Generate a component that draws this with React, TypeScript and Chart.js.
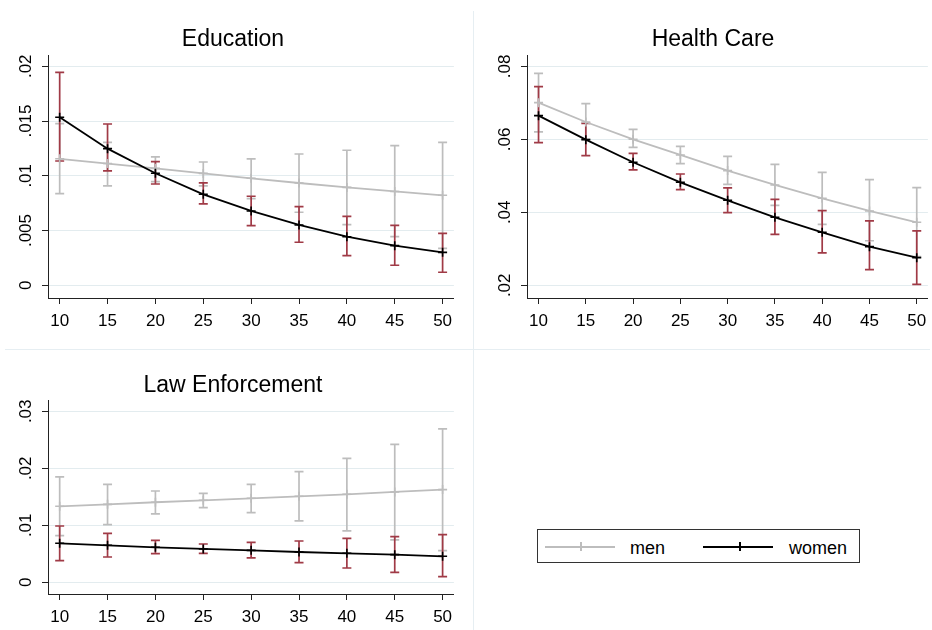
import React, { useEffect, useRef } from "react";
import { Chart, registerables } from "chart.js";
Chart.register(...registerables);

// ---------- data ----------
const ages = [10, 15, 20, 25, 30, 35, 40, 45, 50];

const eduMen = [0.01155, 0.01112, 0.01068, 0.01022, 0.00977, 0.00934, 0.00894, 0.00857, 0.00822];
const eduMenLo = [0.00837, 0.00907, 0.00947, 0.00907, 0.00791, 0.00667, 0.00554, 0.00444, 0.00338];
const eduMenHi = [0.01476, 0.01306, 0.01172, 0.01126, 0.01154, 0.01199, 0.01233, 0.01275, 0.01306];
const eduWomen = [0.01534, 0.01248, 0.01023, 0.00831, 0.00679, 0.00551, 0.00444, 0.00362, 0.00301];
const eduWomenLo = [0.01135, 0.01044, 0.00925, 0.00743, 0.00545, 0.00393, 0.00271, 0.00183, 0.00119];
const eduWomenHi = [0.01945, 0.01473, 0.01129, 0.00935, 0.00813, 0.00718, 0.0063, 0.00548, 0.00475];

const hcMen = [0.07005, 0.06475, 0.06, 0.05571, 0.05142, 0.04749, 0.04384, 0.04037, 0.03726];
const hcMenLo = [0.06201, 0.06, 0.05781, 0.05333, 0.04767, 0.04192, 0.03671, 0.0322, 0.02785];
const hcMenHi = [0.07808, 0.06977, 0.06274, 0.05808, 0.05534, 0.05315, 0.05096, 0.04895, 0.04676];
const hcWomen = [0.06648, 0.05991, 0.0537, 0.04822, 0.04329, 0.03863, 0.03452, 0.03059, 0.02758];
const hcWomenLo = [0.05909, 0.05553, 0.0516, 0.04621, 0.03991, 0.03397, 0.02886, 0.02429, 0.02027];
const hcWomenHi = [0.07443, 0.06438, 0.05616, 0.0505, 0.04667, 0.04356, 0.04046, 0.03763, 0.03489];

const leMen = [0.01333, 0.01368, 0.01404, 0.01439, 0.01474, 0.01509, 0.01544, 0.01585, 0.01626];
const leMenLo = [0.00819, 0.01012, 0.01199, 0.0131, 0.01222, 0.01076, 0.00901, 0.00743, 0.00556];
const leMenHi = [0.01848, 0.01719, 0.01602, 0.01561, 0.01719, 0.01942, 0.02175, 0.02421, 0.0269];
const leWomen = [0.00684, 0.00649, 0.00614, 0.00585, 0.00561, 0.00532, 0.00509, 0.00485, 0.00456];
const leWomenLo = [0.0038, 0.00444, 0.00503, 0.00509, 0.00427, 0.00345, 0.00251, 0.00175, 0.00099];
const leWomenHi = [0.00988, 0.0086, 0.00737, 0.00672, 0.00702, 0.00725, 0.00772, 0.00801, 0.00836];

const eduYTicks = [0, 0.005, 0.01, 0.015, 0.02];
const eduYTickLabels = ["0", ".005", ".01", ".015", ".02"];
const hcYTicks = [0.02, 0.04, 0.06, 0.08];
const hcYTickLabels = [".02", ".04", ".06", ".08"];
const leYTicks = [0, 0.01, 0.02, 0.03];
const leYTickLabels = ["0", ".01", ".02", ".03"];

const seriesNames = ["men", "women"];

// ---------- style ----------
const FONT = "'Liberation Sans', Arial, sans-serif";
const MEN_COLOR = "#bdbdbd";
const WOMEN_COLOR = "#000000";
const WOMEN_CI = "#a03a46";
const AXIS = "#222222";
const GRID = "#e3ecef";

type Panel = {
  title: string;
  men: number[]; menLo: number[]; menHi: number[];
  women: number[]; womenLo: number[]; womenHi: number[];
  yTicks: number[]; yTickLabels: string[];
  yMin: number; yMax: number;
  // layout
  left: number; top: number; w: number; h: number;
  padTop: number; padRight: number; yAxisW: number; xAxisH: number;
  titleX: number; titleY: number;
};

const panels: Panel[] = [
  {
    title: "Education",
    men: eduMen, menLo: eduMenLo, menHi: eduMenHi,
    women: eduWomen, womenLo: eduWomenLo, womenHi: eduWomenHi,
    yTicks: eduYTicks, yTickLabels: eduYTickLabels, yMin: -0.00116, yMax: 0.02103,
    left: 0, top: 0, w: 460, h: 340, padTop: 55, padRight: 6, yAxisW: 48, xAxisH: 42,
    titleX: 233, titleY: 46,
  },
  {
    title: "Health Care",
    men: hcMen, menLo: hcMenLo, menHi: hcMenHi,
    women: hcWomen, womenLo: hcWomenLo, womenHi: hcWomenHi,
    yTicks: hcYTicks, yTickLabels: hcYTickLabels, yMin: 0.01652, yMax: 0.0831,
    left: 474, top: 0, w: 460, h: 340, padTop: 55, padRight: 1, yAxisW: 53, xAxisH: 42,
    titleX: 239, titleY: 46,
  },
  {
    title: "Law Enforcement",
    men: leMen, menLo: leMenLo, menHi: leMenHi,
    women: leWomen, womenLo: leWomenLo, womenHi: leWomenHi,
    yTicks: leYTicks, yTickLabels: leYTickLabels, yMin: -0.00205, yMax: 0.03198,
    left: 0, top: 345, w: 460, h: 285, padTop: 55, padRight: 6, yAxisW: 48, xAxisH: 36,
    titleX: 233, titleY: 46.5,
  },
];

const X_MIN = 8.78;
const X_MAX = 51.18;

function PanelChart({ p }: { p: Panel }) {
  const ref = useRef<HTMLCanvasElement | null>(null);
  useEffect(() => {
    if (!ref.current) return;
    const errorBars = {
      id: "errbars",
      beforeDatasetsDraw(chart: any) {
        const { ctx, scales } = chart;
        const xs = scales.x, ys = scales.y;
        const groups = [
          { lo: p.menLo, hi: p.menHi, color: MEN_COLOR },
          { lo: p.womenLo, hi: p.womenHi, color: WOMEN_CI },
        ];
        ctx.save();
        groups.forEach((g) => {
          ctx.strokeStyle = g.color;
          ctx.lineWidth = 1.7;
          ages.forEach((a, i) => {
            const x = xs.getPixelForValue(a);
            const y1 = ys.getPixelForValue(g.lo[i]);
            const y2 = ys.getPixelForValue(g.hi[i]);
            ctx.beginPath();
            ctx.moveTo(x, y1); ctx.lineTo(x, y2);
            ctx.moveTo(x - 4.5, y1); ctx.lineTo(x + 4.5, y1);
            ctx.moveTo(x - 4.5, y2); ctx.lineTo(x + 4.5, y2);
            ctx.stroke();
          });
        });
        ctx.restore();
      },
    };
    const textPlugin = {
      id: "texts",
      afterDraw(chart: any) {
        const { ctx, scales, chartArea } = chart;
        ctx.save();
        ctx.fillStyle = "#000";
        ctx.font = `23px ${FONT}`;
        ctx.textAlign = "center";
        ctx.textBaseline = "alphabetic";
        ctx.fillText(p.title, p.titleX, p.titleY);
        ctx.font = `17px ${FONT}`;
        p.yTicks.forEach((v, i) => {
          const y = scales.y.getPixelForValue(v);
          ctx.save();
          ctx.translate(chartArea.left - 17, y);
          ctx.rotate(-Math.PI / 2);
          ctx.textAlign = "center";
          ctx.textBaseline = "alphabetic";
          ctx.fillText(p.yTickLabels[i], 0, 0);
          ctx.restore();
        });
        ctx.restore();
      },
    };
    const chart = new Chart(ref.current, {
      type: "line",
      data: {
        datasets: [
          {
            label: seriesNames[1],
            data: ages.map((a, i) => ({ x: a, y: p.women[i] })),
            borderColor: WOMEN_COLOR,
            borderWidth: 1.8,
            pointStyle: "cross",
            pointRadius: 4.5,
            pointBorderColor: WOMEN_COLOR,
            pointBorderWidth: 1.6,
            tension: 0,
            order: 1,
          },
          {
            label: seriesNames[0],
            data: ages.map((a, i) => ({ x: a, y: p.men[i] })),
            borderColor: MEN_COLOR,
            borderWidth: 1.8,
            pointStyle: "cross",
            pointRadius: 4.5,
            pointBorderColor: MEN_COLOR,
            pointBorderWidth: 1.6,
            tension: 0,
            order: 2,
          },
        ],
      },
      options: {
        responsive: false,
        animation: false,
        events: [],
        layout: { padding: { top: p.padTop, right: p.padRight, left: 0, bottom: 0 } },
        plugins: {
          legend: { display: false },
          title: { display: false },
          tooltip: { enabled: false },
        },
        scales: {
          x: {
            type: "linear",
            min: X_MIN,
            max: X_MAX,
            afterBuildTicks: (s: any) => { s.ticks = ages.map((v) => ({ value: v })); },
            afterFit: (s: any) => { s.height = p.xAxisH; },
            ticks: {
              color: "#000",
              font: { family: FONT, size: 17 },
              padding: 7,
              maxRotation: 0,
              minRotation: 0,
              autoSkip: false,
              callback: (v: any) => String(v),
            },
            grid: { drawOnChartArea: false, drawTicks: true, tickLength: 6, tickColor: AXIS, tickWidth: 1 },
            border: { display: true, color: AXIS, width: 1 },
          },
          y: {
            type: "linear",
            min: p.yMin,
            max: p.yMax,
            afterBuildTicks: (s: any) => { s.ticks = p.yTicks.map((v) => ({ value: v })); },
            afterFit: (s: any) => { s.width = p.yAxisW; },
            ticks: { display: false },
            grid: { color: GRID, lineWidth: 1, drawTicks: true, tickLength: 6, tickColor: AXIS, tickWidth: 1 },
            border: { display: true, color: AXIS, width: 1 },
          },
        },
      } as any,
      plugins: [errorBars, textPlugin],
    });
    return () => chart.destroy();
  }, [p]);
  return (
    <canvas
      ref={ref}
      width={p.w}
      height={p.h}
      style={{ position: "absolute", left: p.left, top: p.top, width: p.w, height: p.h }}
    />
  );
}

function Legend() {
  const txt: React.CSSProperties = {
    position: "absolute",
    fontFamily: FONT,
    fontSize: 18,
    color: "#000",
    lineHeight: "18px",
    top: 9,
  };
  const line = (left: number, color: string): React.CSSProperties => ({
    position: "absolute", left, top: 16, width: 70, height: 2, background: color,
  });
  const tick = (left: number, color: string): React.CSSProperties => ({
    position: "absolute", left, top: 12, width: 2, height: 9, background: color,
  });
  return (
    <div
      style={{
        position: "absolute", left: 537, top: 529, width: 321, height: 32,
        border: "1px solid #333", background: "#fff",
      }}
    >
      <div style={line(7, MEN_COLOR)} />
      <div style={tick(42, MEN_COLOR)} />
      <div style={{ ...txt, left: 92 }}>{seriesNames[0]}</div>
      <div style={line(165, WOMEN_COLOR)} />
      <div style={tick(201, WOMEN_COLOR)} />
      <div style={{ ...txt, left: 251 }}>{seriesNames[1]}</div>
    </div>
  );
}

export default function App() {
  return (
    <div
      style={{
        position: "fixed", left: 0, top: 0, width: 932, height: 630,
        overflow: "hidden", background: "#fff",
      }}
    >
      <div style={{ position: "absolute", left: 473, top: 11, width: 1, height: 619, background: "#e6eef2" }} />
      <div style={{ position: "absolute", left: 5, top: 349, width: 925, height: 1, background: "#e6eef2" }} />
      {panels.map((p) => (
        <PanelChart key={p.title} p={p} />
      ))}
      <Legend />
    </div>
  );
}
